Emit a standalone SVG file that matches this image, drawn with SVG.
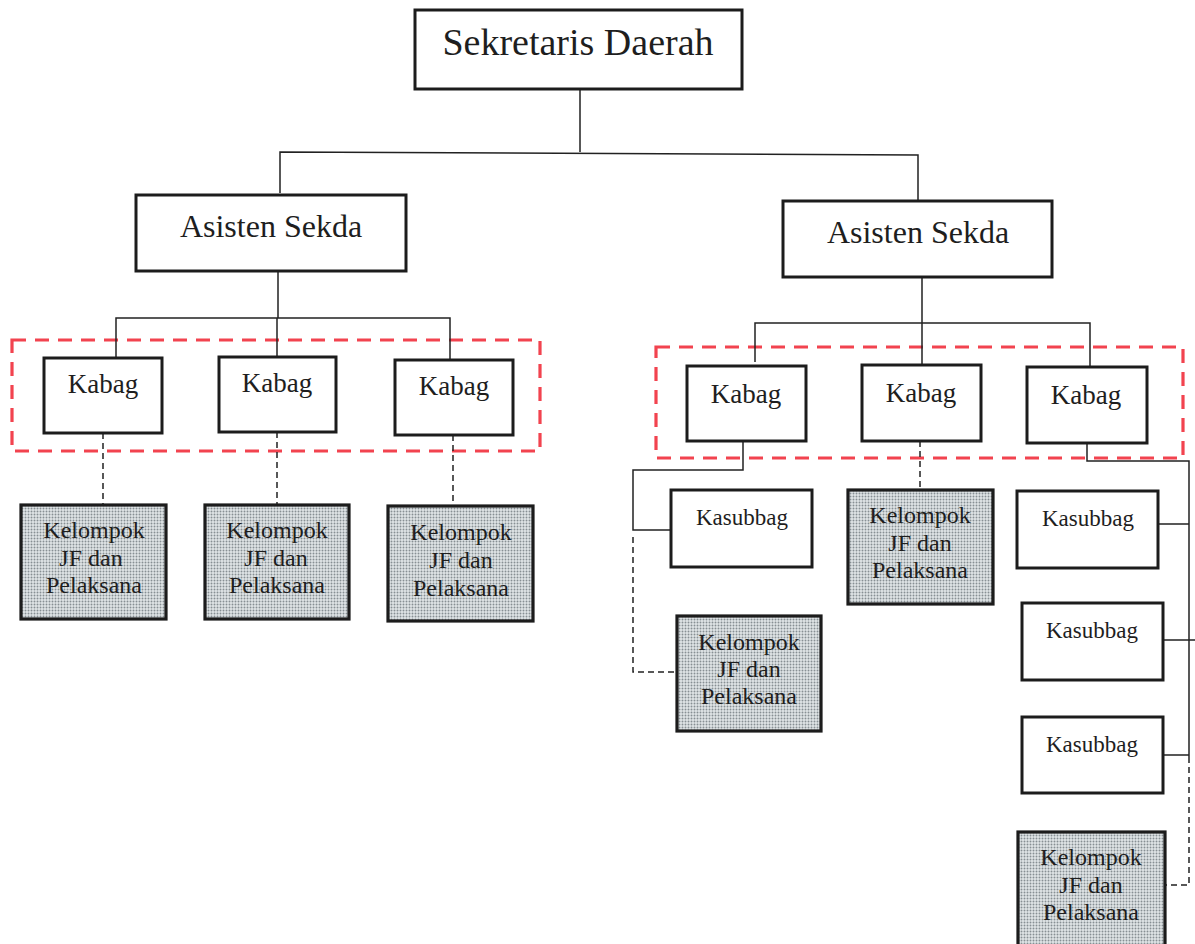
<svg xmlns="http://www.w3.org/2000/svg" width="1195" height="944" viewBox="0 0 1195 944">
<defs>
<pattern id="dots" width="3" height="3" patternUnits="userSpaceOnUse">
<rect width="3" height="3" fill="#e0e5e7"/>
<circle cx="1.5" cy="1.5" r="0.95" fill="#878f93"/>
</pattern>
</defs>
<style>
.box{fill:#fff;stroke:#1c1c1c;stroke-width:3}
.kel{fill:url(#dots);stroke:#1c1c1c;stroke-width:3.2}
.grp{fill:none;stroke:#f2434f;stroke-width:3.2;stroke-dasharray:14 9}
.ln{fill:none;stroke:#222;stroke-width:1.5}
.dl{fill:none;stroke:#222;stroke-width:1.5;stroke-dasharray:6 4}
text{font-family:"Liberation Serif","Times New Roman",serif;fill:#1e1e1e;text-anchor:middle}
.t1{font-size:38px}
.t2{font-size:32px}
.t3{font-size:27px}
.t4{font-size:24px}
.t5{font-size:23px}
</style>
<rect width="1195" height="944" fill="#fff"/>

<g id="groups">
<rect class="grp" x="12" y="340" width="528" height="111"/>
<rect class="grp" x="656" y="347" width="527" height="111"/>
</g>

<g id="connectors">
<path class="ln" d="M580 89 V152 M280 193 V152 L918 155 V207"/>
<path class="ln" d="M278 271 V318 M116 357 V318 H450 V360 M277 318 V358"/>
<path class="dl" d="M103 433 V505 M277 432 V505 M453 435 V506"/>
<path class="ln" d="M922 277 V366 M755 362 V323 H1090 V367"/>
<path class="ln" d="M743 441 V470 H633 V530 H671"/>
<path class="dl" d="M633 537 V672 H677"/>
<path class="dl" d="M920 441 V490"/>
<path class="ln" d="M1087 443 V461 H1189 V757 M1155 524 H1189 M1163 640 H1195 M1155 755 H1189"/>
<path class="dl" d="M1189 757 V885 H1165"/>
</g>

<g id="sekda">
<rect class="box" x="415" y="10" width="327" height="79"/>
<text class="t1" x="578" y="55">Sekretaris Daerah</text>
</g>

<g id="asisten-left">
<rect class="box" x="136" y="195" width="270" height="76"/>
<text class="t2" x="271" y="237">Asisten Sekda</text>
</g>
<g id="asisten-right">
<rect class="box" x="783" y="201" width="269" height="76"/>
<text class="t2" x="918" y="243">Asisten Sekda</text>
</g>

<g id="kabag-l1"><rect class="box" x="44" y="358" width="118" height="75"/><text class="t3" x="103" y="393">Kabag</text></g>
<g id="kabag-l2"><rect class="box" x="219" y="357" width="117" height="75"/><text class="t3" x="277" y="392">Kabag</text></g>
<g id="kabag-l3"><rect class="box" x="395" y="360" width="118" height="75"/><text class="t3" x="454" y="395">Kabag</text></g>

<g id="kabag-r1"><rect class="box" x="687" y="366" width="119" height="75"/><text class="t3" x="746" y="403">Kabag</text></g>
<g id="kabag-r2"><rect class="box" x="862" y="365" width="119" height="76"/><text class="t3" x="921" y="402">Kabag</text></g>
<g id="kabag-r3"><rect class="box" x="1027" y="367" width="120" height="76"/><text class="t3" x="1086" y="404">Kabag</text></g>

<g id="kel-l1"><rect class="kel" x="21" y="505" width="145" height="114"/>
<text class="t4" x="94" y="538">Kelompok</text><text class="t4" x="91" y="566">JF dan</text><text class="t4" x="94" y="593">Pelaksana</text></g>
<g id="kel-l2"><rect class="kel" x="205" y="505" width="144" height="114"/>
<text class="t4" x="277" y="538">Kelompok</text><text class="t4" x="276" y="566">JF dan</text><text class="t4" x="277" y="593">Pelaksana</text></g>
<g id="kel-l3"><rect class="kel" x="388" y="506" width="145" height="115"/>
<text class="t4" x="461" y="540">Kelompok</text><text class="t4" x="461" y="568">JF dan</text><text class="t4" x="461" y="596">Pelaksana</text></g>

<g id="kasubbag-r1"><rect class="box" x="671" y="490" width="141" height="77"/><text class="t5" x="742" y="525">Kasubbag</text></g>
<g id="kel-r1"><rect class="kel" x="677" y="616" width="144" height="115"/>
<text class="t4" x="749" y="650">Kelompok</text><text class="t4" x="749" y="677">JF dan</text><text class="t4" x="749" y="704">Pelaksana</text></g>

<g id="kel-r2"><rect class="kel" x="848" y="490" width="145" height="114"/>
<text class="t4" x="920" y="523">Kelompok</text><text class="t4" x="920" y="551">JF dan</text><text class="t4" x="920" y="578">Pelaksana</text></g>

<g id="kasubbag-r2"><rect class="box" x="1017" y="491" width="141" height="77"/><text class="t5" x="1088" y="526">Kasubbag</text></g>
<g id="kasubbag-r3"><rect class="box" x="1022" y="603" width="141" height="77"/><text class="t5" x="1092" y="638">Kasubbag</text></g>
<g id="kasubbag-r4"><rect class="box" x="1022" y="717" width="141" height="76"/><text class="t5" x="1092" y="752">Kasubbag</text></g>
<g id="kel-r3"><rect class="kel" x="1018" y="832" width="147" height="120"/>
<text class="t4" x="1091" y="865">Kelompok</text><text class="t4" x="1091" y="893">JF dan</text><text class="t4" x="1091" y="920">Pelaksana</text></g>
</svg>
